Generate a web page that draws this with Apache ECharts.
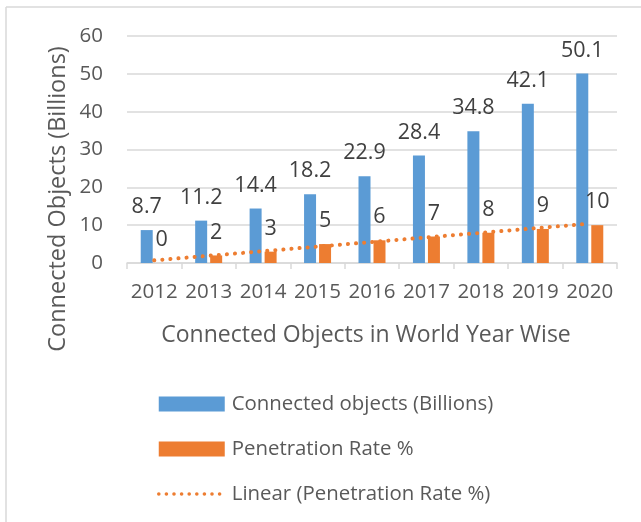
<!DOCTYPE html>
<html>
<head>
<meta charset="utf-8">
<script src="https://cdn.jsdelivr.net/npm/echarts@6/dist/echarts.min.js"></script>
<style>
html,body{margin:0;padding:0;background:#fff;}
#chart{width:641px;height:522px;}
</style>
</head>
<body>
<div id="chart"></div>
<script>
const years = ['2012','2013','2014','2015','2016','2017','2018','2019','2020'];
const connectedObjects = [8.7, 11.2, 14.4, 18.2, 22.9, 28.4, 34.8, 42.1, 50.1];
const penetrationRate = [0, 2, 3, 5, 6, 7, 8, 9, 10];
// Linear trendline endpoints (only first and last year)
const trendline = [0.7, null, null, null, null, null, null, null, 10.4];
const yTicks = [0, 10, 20, 30, 40, 50, 60];

const FONT = '"Open Sans"';
const TXT = '#595959';
const BLUE = '#5B9BD5';
const ORANGE = '#ED7D31';
const GRID = '#D9D9D9';

const chart = echarts.init(document.getElementById('chart'), null, {renderer: 'canvas'});
chart.setOption({
  animation: false,
  backgroundColor: '#fff',
  grid: {left: 127, right: 24, top: 36, height: 227, containLabel: false},
  xAxis: {
    type: 'category',
    data: years,
    axisLine: {lineStyle: {color: GRID, width: 1.5}},
    axisTick: {show: true, length: 6, lineStyle: {color: GRID, width: 1.5}},
    axisLabel: {color: TXT, fontFamily: FONT, fontSize: 20.5, margin: 19, interval: 0}
  },
  yAxis: {
    type: 'value',
    min: yTicks[0], max: yTicks[yTicks.length - 1], interval: 10,
    axisLine: {show: false},
    axisTick: {show: false},
    splitLine: {lineStyle: {color: GRID, width: 1.5}},
    axisLabel: {color: TXT, fontFamily: FONT, fontSize: 20.5, margin: 24}
  },
  legend: {
    orient: 'vertical',
    left: 157, top: 394, padding: 0,
    itemWidth: 66, itemHeight: 15, itemGap: 25,
    textStyle: {color: TXT, fontFamily: FONT, fontSize: 20.4, padding: [0,0,0,2]},
    data: [
      {name: 'Connected objects (Billions)', icon: 'rect'},
      {name: 'Penetration Rate %', icon: 'rect'},
      {name: 'Linear (Penetration Rate %)', itemStyle: {opacity: 0},
       lineStyle: {color: ORANGE, width: 3.5, type: [0.1, 7.5], cap: 'round'}}
    ]
  },
  series: [
    {
      name: 'Connected objects (Billions)', type: 'bar', data: connectedObjects,
      barWidth: 12, barGap: '25%',
      itemStyle: {color: BLUE},
      label: {show: true, position: 'top', distance: 12, color: '#404040', fontFamily: FONT, fontSize: 21.5}
    },
    {
      name: 'Penetration Rate %', type: 'bar', data: penetrationRate,
      barWidth: 12,
      itemStyle: {color: ORANGE},
      label: {show: true, position: 'top', distance: 12, color: '#404040', fontFamily: FONT, fontSize: 21.5}
    },
    {
      name: 'Linear (Penetration Rate %)', type: 'line', data: trendline,
      connectNulls: true, symbol: 'none', z: 5,
      itemStyle: {color: ORANGE},
      lineStyle: {color: ORANGE, width: 4, type: [0.1, 8], cap: 'round'}
    }
  ],
  graphic: [
    {type: 'line', shape: {x1: 6, y1: 7, x2: 641, y2: 7}, style: {stroke: GRID, lineWidth: 1.5}, silent: true},
    {type: 'line', shape: {x1: 6, y1: 7, x2: 6, y2: 522}, style: {stroke: GRID, lineWidth: 1.5}, silent: true},
    {type: 'text', x: 58, y: 199, rotation: Math.PI / 2,
     style: {text: 'Connected Objects (Billions)', fill: TXT, font: '23.5px ' + FONT, textAlign: 'center', textVerticalAlign: 'middle'}},
    {type: 'text', x: 366, y: 335,
     style: {text: 'Connected Objects in World Year Wise', fill: TXT, font: '23px ' + FONT, textAlign: 'center', textVerticalAlign: 'middle'}}
  ]
});
</script>
</body>
</html>
